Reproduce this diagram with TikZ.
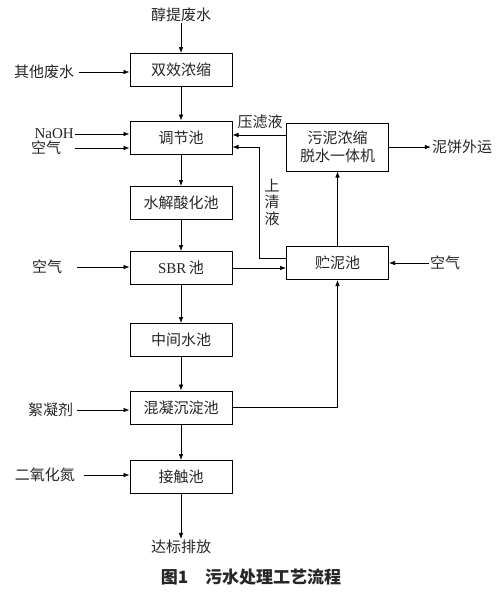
\documentclass[tikz,border=0pt]{standalone}
\usepackage{fontspec}
\setmainfont{Liberation Serif}
\newfontfamily\cjk{Noto Sans CJK SC}
\usetikzlibrary{arrows.meta}

\tikzset{
	proc/.style={draw, line width=1pt, minimum width=102pt, minimum height=33pt, inner sep=0pt},
	lbl/.style={inner sep=1pt},
	flow/.style={line width=0.6pt, -{Latex[length=6pt,width=4.5pt]}}
}

\begin{document}
\begin{tikzpicture}[x=1pt, y=-1pt, font=\cjk\fontsize{15}{18}\selectfont, text=black!85]
\useasboundingbox (0,0) rectangle (497,592);
\def\colx{181}
\def\sidex{337.5}

% main column
\node[proc] (sxns) at (\colx, 70) {双效浓缩};
\node[proc] (tjc) at (\colx, 137.5) {调节池};
\node[proc] (sjsh) at (\colx, 203) {水解酸化池};
\node[proc] (sbr) at (\colx, 268) {{\rmfamily SBR}\,池};
\node[proc] (zjsc) at (\colx, 340) {中间水池};
\node[proc] (hncd) at (\colx, 407.5) {混凝沉淀池};
\node[proc] (jcc) at (\colx, 477) {接触池};

% sludge side
\node[proc, minimum height=48pt, align=center] (wnj) at (\sidex, 147) {污泥浓缩\\脱水一体机};
\node[proc] (znc) at (\sidex, 263) {贮泥池};

% labels
\node[lbl] (ctfs) at (\colx, 15) {醇提废水};
\node[lbl] (qtfs) at (44, 72) {其他废水};
\node[lbl, anchor=east] (naoh) at (75, 134) {\rmfamily NaOH};
\node[lbl] (kqa) at (46, 148) {空气};
\node[lbl] (kqb) at (47, 267) {空气};
\node[lbl] (xnj) at (50.5, 410) {絮凝剂};
\node[lbl] (eyhd) at (45, 475) {二氧化氮};
\node[lbl] (dbpf) at (\colx, 547) {达标排放};
\node[lbl] (nbwy) at (462, 147) {泥饼外运};
\node[lbl] (kqc) at (445, 263) {空气};
\node[lbl] (ylye) at (260, 122) {压滤液};
\node[lbl, align=center, font=\cjk\fontsize{15}{16.5}\selectfont] (sqye) at (272, 202) {上\\清\\液};
\node[font=\cjk\bfseries\fontsize{17}{19}\selectfont] (cap) at (251, 577) {图1\quad 污水处理工艺流程};
\coordinate (sqbend) at (259, 147);

% main flow
\draw[flow] (ctfs) -- (sxns);
\draw[flow] (sxns) -- (tjc);
\draw[flow] (tjc) -- (sjsh);
\draw[flow] (sjsh) -- (sbr);
\draw[flow] (sbr) -- (zjsc);
\draw[flow] (zjsc) -- (hncd);
\draw[flow] (hncd) -- (jcc);
\draw[flow] (jcc) -- (dbpf);

% dosing
\draw[flow] ([xshift=4pt]qtfs.east) -- (qtfs.east -| sxns.west);
\draw[flow] (naoh.east) -- (naoh.east -| tjc.west);
\draw[flow] (naoh.east |- kqa) -- (kqa -| tjc.west);
\draw[flow] ([xshift=14pt]kqb.east) -- (kqb -| sbr.west);
\draw[flow] ([xshift=3pt]xnj.east) -- (xnj -| hncd.west);
\draw[flow] ([xshift=8pt]eyhd.east) -- (eyhd -| jcc.west);

% sludge
\draw[flow] (sbr.east) -- (sbr.east -| znc.west);
\draw[flow] (hncd.east) -| (znc.south);
\draw[flow] (znc) -- (wnj);
\draw[flow] (wnj) -- (nbwy);
\draw[flow] (kqc) -- (znc);
\draw[flow] ([yshift=12pt]wnj.west) -- ([yshift=12pt]wnj.west -| tjc.east);
\draw[flow] ([yshift=5pt]znc.west) -| (sqbend) -- (tjc.east |- sqbend);
\end{tikzpicture}
\end{document}
